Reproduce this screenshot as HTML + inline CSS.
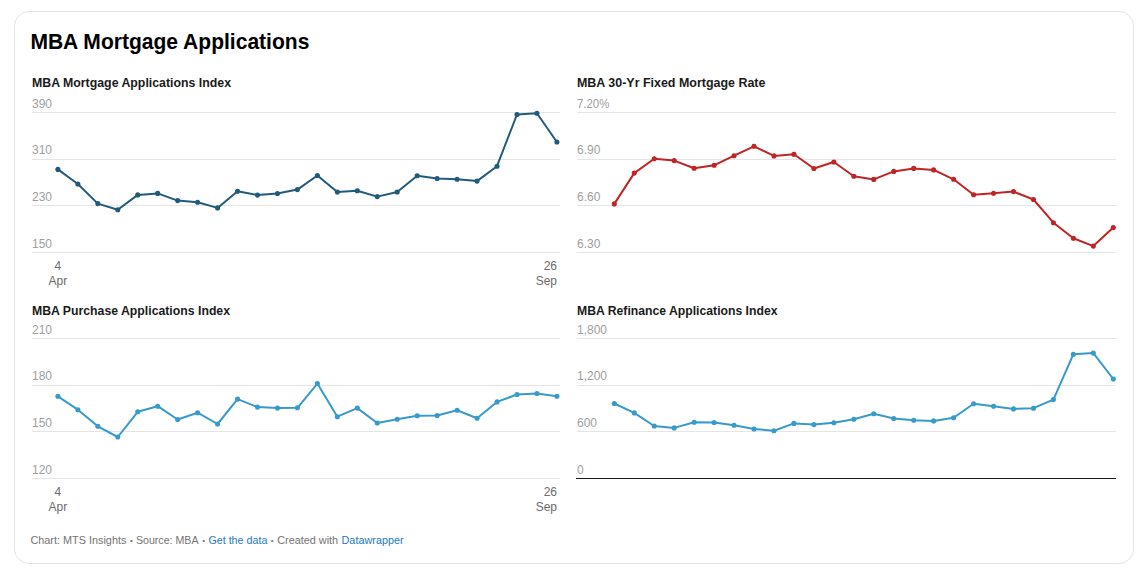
<!DOCTYPE html>
<html><head><meta charset="utf-8"><title>MBA Mortgage Applications</title>
<style>
html,body{margin:0;padding:0;background:#fff;}
body{width:1147px;height:571px;overflow:hidden;position:relative;font-family:"Liberation Sans",Arial,sans-serif;}
.card{position:absolute;left:14px;top:11px;width:1118px;height:551px;border:1px solid #e3e3e8;border-radius:15px;background:#fff;}
svg{position:absolute;left:0;top:0;}
svg text{font-family:"Liberation Sans",Arial,sans-serif;}
.t{font-size:22px;font-weight:bold;fill:#000;}
.st{font-size:13px;font-weight:bold;fill:#1a1a1a;}
.yl{font-size:12px;fill:#9e9e9e;}
.xl{font-size:12px;fill:#6b6b6b;}
.ft{font-size:11px;fill:#747474;}
.ft.ln{fill:#2479c6;}
.bu{font-size:8px;}
</style></head>
<body>
<div class="card"></div>
<svg width="1147" height="571" viewBox="0 0 1147 571">
<rect x="32" y="112" width="528" height="1" fill="#e5e5e5"/><rect x="32" y="159" width="528" height="1" fill="#e5e5e5"/><rect x="32" y="205" width="528" height="1" fill="#e5e5e5"/><rect x="32" y="252" width="528" height="1" fill="#e5e5e5"/>
<rect x="577" y="112" width="539" height="1" fill="#e5e5e5"/><rect x="577" y="159" width="539" height="1" fill="#e5e5e5"/><rect x="577" y="205" width="539" height="1" fill="#e5e5e5"/><rect x="577" y="252" width="539" height="1" fill="#e5e5e5"/>
<rect x="32" y="338" width="528" height="1" fill="#e5e5e5"/><rect x="32" y="385" width="528" height="1" fill="#e5e5e5"/><rect x="32" y="431" width="528" height="1" fill="#e5e5e5"/><rect x="32" y="478" width="528" height="1" fill="#e5e5e5"/>
<rect x="577" y="338" width="539" height="1" fill="#e5e5e5"/><rect x="577" y="385" width="539" height="1" fill="#e5e5e5"/><rect x="577" y="431" width="539" height="1" fill="#e5e5e5"/>
<rect x="576" y="478" width="540" height="1" fill="#1a1a1a"/>
<text x="32" y="108" class="yl">390</text><text x="32" y="154" class="yl">310</text><text x="32" y="201" class="yl">230</text><text x="32" y="248" class="yl">150</text>
<text x="577" y="108" class="yl" textLength="32.3" lengthAdjust="spacingAndGlyphs">7.20%</text><text x="577" y="154" class="yl">6.90</text><text x="577" y="201" class="yl">6.60</text><text x="577" y="248" class="yl">6.30</text>
<text x="32" y="334" class="yl">210</text><text x="32" y="380" class="yl">180</text><text x="32" y="427" class="yl">150</text><text x="32" y="474" class="yl">120</text>
<text x="577" y="334" class="yl">1,800</text><text x="577" y="380" class="yl">1,200</text><text x="577" y="427" class="yl">600</text><text x="577" y="474" class="yl">0</text>
<path d="M57.90,169.40 L77.86,184.00 L97.82,203.60 L117.78,209.70 L137.74,194.90 L157.70,193.40 L177.66,200.60 L197.62,202.30 L217.58,207.90 L237.54,191.30 L257.50,195.10 L277.46,193.50 L297.42,189.60 L317.38,175.50 L337.34,192.00 L357.30,190.70 L377.26,196.60 L397.22,192.00 L417.18,175.70 L437.14,178.50 L457.10,179.20 L477.06,181.10 L497.02,166.20 L516.98,114.50 L536.94,113.30 L556.90,142.00" fill="none" stroke="#225b79" stroke-width="2.0" stroke-linejoin="round" stroke-linecap="round"/>
<g fill="#225b79"><circle cx="57.90" cy="169.40" r="2.55"/><circle cx="77.86" cy="184.00" r="2.55"/><circle cx="97.82" cy="203.60" r="2.55"/><circle cx="117.78" cy="209.70" r="2.55"/><circle cx="137.74" cy="194.90" r="2.55"/><circle cx="157.70" cy="193.40" r="2.55"/><circle cx="177.66" cy="200.60" r="2.55"/><circle cx="197.62" cy="202.30" r="2.55"/><circle cx="217.58" cy="207.90" r="2.55"/><circle cx="237.54" cy="191.30" r="2.55"/><circle cx="257.50" cy="195.10" r="2.55"/><circle cx="277.46" cy="193.50" r="2.55"/><circle cx="297.42" cy="189.60" r="2.55"/><circle cx="317.38" cy="175.50" r="2.55"/><circle cx="337.34" cy="192.00" r="2.55"/><circle cx="357.30" cy="190.70" r="2.55"/><circle cx="377.26" cy="196.60" r="2.55"/><circle cx="397.22" cy="192.00" r="2.55"/><circle cx="417.18" cy="175.70" r="2.55"/><circle cx="437.14" cy="178.50" r="2.55"/><circle cx="457.10" cy="179.20" r="2.55"/><circle cx="477.06" cy="181.10" r="2.55"/><circle cx="497.02" cy="166.20" r="2.55"/><circle cx="516.98" cy="114.50" r="2.55"/><circle cx="536.94" cy="113.30" r="2.55"/><circle cx="556.90" cy="142.00" r="2.55"/></g>
<path d="M614.30,203.90 L634.26,173.10 L654.22,158.80 L674.18,160.60 L694.14,168.30 L714.10,165.30 L734.06,155.70 L754.02,146.30 L773.98,155.90 L793.94,154.30 L813.90,168.50 L833.86,162.00 L853.82,176.30 L873.78,179.40 L893.74,171.40 L913.70,168.40 L933.66,169.90 L953.62,179.30 L973.58,194.80 L993.54,193.30 L1013.50,191.60 L1033.46,199.50 L1053.42,222.70 L1073.38,238.30 L1093.34,246.10 L1113.30,227.60" fill="none" stroke="#c02424" stroke-width="2.0" stroke-linejoin="round" stroke-linecap="round"/>
<g fill="#c02424"><circle cx="614.30" cy="203.90" r="2.55"/><circle cx="634.26" cy="173.10" r="2.55"/><circle cx="654.22" cy="158.80" r="2.55"/><circle cx="674.18" cy="160.60" r="2.55"/><circle cx="694.14" cy="168.30" r="2.55"/><circle cx="714.10" cy="165.30" r="2.55"/><circle cx="734.06" cy="155.70" r="2.55"/><circle cx="754.02" cy="146.30" r="2.55"/><circle cx="773.98" cy="155.90" r="2.55"/><circle cx="793.94" cy="154.30" r="2.55"/><circle cx="813.90" cy="168.50" r="2.55"/><circle cx="833.86" cy="162.00" r="2.55"/><circle cx="853.82" cy="176.30" r="2.55"/><circle cx="873.78" cy="179.40" r="2.55"/><circle cx="893.74" cy="171.40" r="2.55"/><circle cx="913.70" cy="168.40" r="2.55"/><circle cx="933.66" cy="169.90" r="2.55"/><circle cx="953.62" cy="179.30" r="2.55"/><circle cx="973.58" cy="194.80" r="2.55"/><circle cx="993.54" cy="193.30" r="2.55"/><circle cx="1013.50" cy="191.60" r="2.55"/><circle cx="1033.46" cy="199.50" r="2.55"/><circle cx="1053.42" cy="222.70" r="2.55"/><circle cx="1073.38" cy="238.30" r="2.55"/><circle cx="1093.34" cy="246.10" r="2.55"/><circle cx="1113.30" cy="227.60" r="2.55"/></g>
<path d="M57.90,396.30 L77.86,409.70 L97.82,426.30 L117.78,437.00 L137.74,411.80 L157.70,406.20 L177.66,419.50 L197.62,412.70 L217.58,424.00 L237.54,399.10 L257.50,407.10 L277.46,408.10 L297.42,407.80 L317.38,383.60 L337.34,416.70 L357.30,408.10 L377.26,423.00 L397.22,419.30 L417.18,415.80 L437.14,415.50 L457.10,410.30 L477.06,418.30 L497.02,401.90 L516.98,394.50 L536.94,393.50 L556.90,396.30" fill="none" stroke="#379acb" stroke-width="2.0" stroke-linejoin="round" stroke-linecap="round"/>
<g fill="#379acb"><circle cx="57.90" cy="396.30" r="2.55"/><circle cx="77.86" cy="409.70" r="2.55"/><circle cx="97.82" cy="426.30" r="2.55"/><circle cx="117.78" cy="437.00" r="2.55"/><circle cx="137.74" cy="411.80" r="2.55"/><circle cx="157.70" cy="406.20" r="2.55"/><circle cx="177.66" cy="419.50" r="2.55"/><circle cx="197.62" cy="412.70" r="2.55"/><circle cx="217.58" cy="424.00" r="2.55"/><circle cx="237.54" cy="399.10" r="2.55"/><circle cx="257.50" cy="407.10" r="2.55"/><circle cx="277.46" cy="408.10" r="2.55"/><circle cx="297.42" cy="407.80" r="2.55"/><circle cx="317.38" cy="383.60" r="2.55"/><circle cx="337.34" cy="416.70" r="2.55"/><circle cx="357.30" cy="408.10" r="2.55"/><circle cx="377.26" cy="423.00" r="2.55"/><circle cx="397.22" cy="419.30" r="2.55"/><circle cx="417.18" cy="415.80" r="2.55"/><circle cx="437.14" cy="415.50" r="2.55"/><circle cx="457.10" cy="410.30" r="2.55"/><circle cx="477.06" cy="418.30" r="2.55"/><circle cx="497.02" cy="401.90" r="2.55"/><circle cx="516.98" cy="394.50" r="2.55"/><circle cx="536.94" cy="393.50" r="2.55"/><circle cx="556.90" cy="396.30" r="2.55"/></g>
<path d="M614.30,403.50 L634.26,412.90 L654.22,426.00 L674.18,427.90 L694.14,422.30 L714.10,422.50 L734.06,425.30 L754.02,429.00 L773.98,430.70 L793.94,423.40 L813.90,424.60 L833.86,422.70 L853.82,419.20 L873.78,413.80 L893.74,418.50 L913.70,420.30 L933.66,420.90 L953.62,417.80 L973.58,403.80 L993.54,406.30 L1013.50,408.90 L1033.46,408.20 L1053.42,399.60 L1073.38,354.20 L1093.34,353.10 L1113.30,379.00" fill="none" stroke="#379acb" stroke-width="2.0" stroke-linejoin="round" stroke-linecap="round"/>
<g fill="#379acb"><circle cx="614.30" cy="403.50" r="2.55"/><circle cx="634.26" cy="412.90" r="2.55"/><circle cx="654.22" cy="426.00" r="2.55"/><circle cx="674.18" cy="427.90" r="2.55"/><circle cx="694.14" cy="422.30" r="2.55"/><circle cx="714.10" cy="422.50" r="2.55"/><circle cx="734.06" cy="425.30" r="2.55"/><circle cx="754.02" cy="429.00" r="2.55"/><circle cx="773.98" cy="430.70" r="2.55"/><circle cx="793.94" cy="423.40" r="2.55"/><circle cx="813.90" cy="424.60" r="2.55"/><circle cx="833.86" cy="422.70" r="2.55"/><circle cx="853.82" cy="419.20" r="2.55"/><circle cx="873.78" cy="413.80" r="2.55"/><circle cx="893.74" cy="418.50" r="2.55"/><circle cx="913.70" cy="420.30" r="2.55"/><circle cx="933.66" cy="420.90" r="2.55"/><circle cx="953.62" cy="417.80" r="2.55"/><circle cx="973.58" cy="403.80" r="2.55"/><circle cx="993.54" cy="406.30" r="2.55"/><circle cx="1013.50" cy="408.90" r="2.55"/><circle cx="1033.46" cy="408.20" r="2.55"/><circle cx="1053.42" cy="399.60" r="2.55"/><circle cx="1073.38" cy="354.20" r="2.55"/><circle cx="1093.34" cy="353.10" r="2.55"/><circle cx="1113.30" cy="379.00" r="2.55"/></g>
<text x="57.9" y="270" class="xl" text-anchor="middle">4</text><text x="57.9" y="285" class="xl" text-anchor="middle">Apr</text>
<text x="557" y="270" class="xl" text-anchor="end">26</text><text x="557" y="285" class="xl" text-anchor="end">Sep</text>
<text x="57.9" y="496" class="xl" text-anchor="middle">4</text><text x="57.9" y="511" class="xl" text-anchor="middle">Apr</text>
<text x="557" y="496" class="xl" text-anchor="end">26</text><text x="557" y="511" class="xl" text-anchor="end">Sep</text>
<text x="30.4" y="49" class="t" textLength="279.0" lengthAdjust="spacingAndGlyphs">MBA Mortgage Applications</text>
<text x="32" y="87" class="st" textLength="199" lengthAdjust="spacingAndGlyphs">MBA Mortgage Applications Index</text>
<text x="577" y="87" class="st" textLength="188.4" lengthAdjust="spacingAndGlyphs">MBA 30-Yr Fixed Mortgage Rate</text>
<text x="32" y="315" class="st" textLength="198" lengthAdjust="spacingAndGlyphs">MBA Purchase Applications Index</text>
<text x="577" y="315" class="st" textLength="200.5" lengthAdjust="spacingAndGlyphs">MBA Refinance Applications Index</text>
<text x="30.4" y="544" class="ft" textLength="96.0" lengthAdjust="spacingAndGlyphs">Chart: MTS Insights</text><text x="135.9" y="544" class="ft" textLength="62.6" lengthAdjust="spacingAndGlyphs">Source: MBA</text><text x="208.4" y="544" class="ft ln" textLength="59.0" lengthAdjust="spacingAndGlyphs">Get the data</text><text x="277.3" y="544" class="ft" textLength="60.8" lengthAdjust="spacingAndGlyphs">Created with</text><text x="341.5" y="544" class="ft ln" textLength="62.2" lengthAdjust="spacingAndGlyphs">Datawrapper</text><text x="131.4" y="543" class="ft bu" text-anchor="middle">•</text><text x="203.6" y="543" class="ft bu" text-anchor="middle">•</text><text x="272.2" y="543" class="ft bu" text-anchor="middle">•</text>
</svg>
</body></html>
